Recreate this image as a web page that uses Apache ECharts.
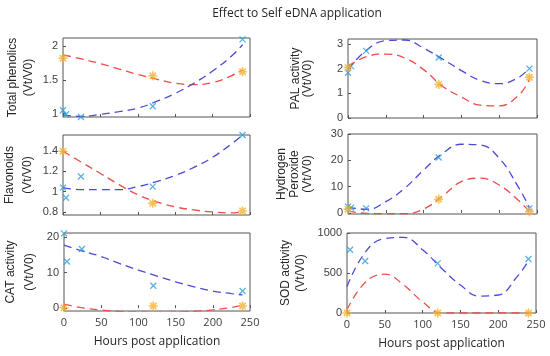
<!DOCTYPE html>
<html><head><meta charset="utf-8">
<script src="https://cdn.jsdelivr.net/npm/echarts@6/dist/echarts.min.js"></script>
<style>html,body{margin:0;padding:0;background:#fff}#c{width:550px;height:356px}</style>
</head><body><div id="c"></div>
<script>
// ---- data ----
const titleText = 'Effect to Self eDNA application';
const xTicks = [0, 50, 100, 150, 200, 250];
const curveHours = [0, 25, 50, 75, 100, 125, 150, 175, 200, 225, 240];
const blueHours = [0, 4, 24, 120, 240];
const orangeHours = [0, 120, 240];

const tpBlueFit = [0.98, 0.96, 0.99, 1.03, 1.08, 1.18, 1.30, 1.45, 1.63, 1.85, 2.02];
const tpRedFit = [1.87, 1.81, 1.74, 1.66, 1.58, 1.51, 1.45, 1.43, 1.46, 1.56, 1.65];
const tpBlue = [1.05, 0.99, 0.95, 1.11, 2.1];
const tpOrange = [1.82, 1.56, 1.62];

const flBlueFit = [1.04, 1.02, 1.02, 1.02, 1.05, 1.10, 1.16, 1.24, 1.34, 1.47, 1.56];
const flRedFit = [1.40, 1.29, 1.18, 1.07, 0.97, 0.90, 0.85, 0.82, 0.80, 0.79, 0.80];
const flBlue = [1.04, 0.94, 1.15, 1.05, 1.56];
const flOrange = [1.40, 0.885, 0.81];

const catBlueFit = [17.7, 16.0, 14.5, 12.5, 10.7, 9.0, 7.4, 6.0, 4.8, 4.1, 3.7];
const catRedFit = [1.1, 0.1, -0.5, -0.9, -1.1, -1.2, -1.1, -0.9, -0.5, 0.2, 0.9];
const catBlue = [21, 13.1, 16.6, 6.3, 4.8];
const catOrange = [0.1, 0.6, 0.6];

const palBlueFit = [1.96, 2.76, 3.13, 3.16, 2.83, 2.39, 1.92, 1.52, 1.39, 1.63, 2.03];
const palRedFit = [2.09, 2.49, 2.59, 2.43, 1.96, 1.29, 0.85, 0.52, 0.49, 0.90, 1.56];
const palBlue = [1.83, 2.1, 2.72, 2.45, 2.0];
const palOrange = [2.05, 1.36, 1.65];

const hpBlueFit = [2.1, 1.4, 4.3, 9.4, 16.3, 22.6, 26.1, 25.8, 20.8, 10.0, 2.1];
const hpRedFit = [0.8, -0.2, -0.3, -0.3, 1.5, 6.4, 11.9, 13.2, 10.6, 4.9, 0.5];
const hpBlue = [2.4, 2.0, 1.75, 21.1, 1.75];
const hpOrange = [1.4, 5.2, 0.5];

const sodBlueFit = [330, 770, 930, 945, 790, 560, 350, 212, 225, 455, 650];
const sodRedFit = [40, 390, 485, 350, 140, 0, 0, 0, 0, 0, 0];
const sodBlueHours = [4, 24, 120, 240];
const sodBlue = [790, 650, 620, 675];
const sodOrange = [0, 0, 0];

const panels = [
  {name: 'Total phenolics\n(Vt/V0)', min: 0.95, max: 2.12, ticks: [1, 1.5, 2], bf: tpBlueFit, rf: tpRedFit, bh: blueHours, b: tpBlue, o: tpOrange},
  {name: 'PAL activity\n(Vt/V0)', min: 0, max: 3.2, ticks: [0, 1, 2, 3], bf: palBlueFit, rf: palRedFit, bh: blueHours, b: palBlue, o: palOrange},
  {name: 'Flavonoids\n(Vt/V0)', min: 0.77, max: 1.56, ticks: [0.8, 1, 1.2, 1.4], bf: flBlueFit, rf: flRedFit, bh: blueHours, b: flBlue, o: flOrange},
  {name: 'Hydrogen\nPeroxide\n(Vt/V0)', min: -0.4, max: 30, ticks: [0, 10, 20, 30], bf: hpBlueFit, rf: hpRedFit, bh: blueHours, b: hpBlue, o: hpOrange},
  {name: 'CAT activity\n(Vt/V0)', min: -0.8, max: 21.1, ticks: [0, 10, 20], bf: catBlueFit, rf: catRedFit, bh: blueHours, b: catBlue, o: catOrange},
  {name: 'SOD activity\n(Vt/V0)', min: 0, max: 1000, ticks: [0, 500, 1000], bf: sodBlueFit, rf: sodRedFit, bh: sodBlueHours, b: sodBlue, o: sodOrange}
];

// ---- layout / styles ----
const grids = [
  {left: 63, top: 38, width: 187, height: 79},
  {left: 348, top: 39, width: 189, height: 79},
  {left: 63, top: 135, width: 187, height: 80},
  {left: 348, top: 134, width: 189, height: 80},
  {left: 63, top: 233, width: 187, height: 78},
  {left: 347, top: 233, width: 189, height: 80}
];
const nameGaps = [26, 34, 26, 34, 25, 39];
const lineHeights = [16, 12, 18, 13, 19, 15];
const FONT = 'Open Sans';
const YFONT = 'Liberation Sans';
const BLUE_LINE = '#4a4ad6';
const RED_LINE = '#ee4b4b';
const BLUE_MK = '#2e9fd6';
const ORANGE_MK = '#f2b130';
const X_PATH = 'path://M0,0L10,10M10,0L0,10';
const STAR_PATH = 'path://M5,0L5,10M0,5L10,5M1.5,1.5L8.5,8.5M8.5,1.5L1.5,8.5';

const xAxis = [], yAxis = [], series = [];
panels.forEach((p, i) => {
  const bottom = i >= 4;
  xAxis.push({
    type: 'value', gridIndex: i, min: 0, max: 250, interval: 50,
    axisLine: {show: false},
    axisTick: {show: true, inside: true, length: 3, lineStyle: {color: '#555'}},
    splitLine: {show: false},
    axisLabel: {show: bottom, color: '#404040', fontFamily: FONT, fontSize: 11, margin: 6},
    name: bottom ? 'Hours post application' : '',
    nameLocation: 'middle', nameGap: 25,
    nameTextStyle: {color: '#262626', fontFamily: FONT, fontSize: 12}
  });
  yAxis.push({
    type: 'value', gridIndex: i, min: p.min, max: p.max,
    axisLine: {show: false},
    axisTick: {show: true, inside: true, length: 3, customValues: p.ticks, lineStyle: {color: '#555'}},
    splitLine: {show: false},
    axisLabel: {show: true, customValues: p.ticks, color: '#404040', fontFamily: YFONT, fontSize: 11, margin: 5,
      formatter: v => String(v)},
    name: p.name, nameLocation: 'middle', nameRotate: 90, nameGap: nameGaps[i],
    nameTextStyle: {color: '#262626', fontFamily: YFONT, fontSize: 12, lineHeight: lineHeights[i]}
  });
  series.push({
    type: 'line', xAxisIndex: i, yAxisIndex: i, smooth: 0.45, symbol: 'none', clip: true,
    data: curveHours.map((h, k) => [h, p.rf[k]]),
    lineStyle: {color: RED_LINE, width: 1.3, type: [8, 5]}, z: 2
  });
  series.push({
    type: 'line', xAxisIndex: i, yAxisIndex: i, smooth: 0.45, symbol: 'none', clip: true,
    data: curveHours.map((h, k) => [h, p.bf[k]]),
    lineStyle: {color: BLUE_LINE, width: 1.3, type: [8, 5]}, z: 2
  });
  series.push({
    type: 'scatter', xAxisIndex: i, yAxisIndex: i, symbol: X_PATH, symbolSize: 6, clip: false,
    data: p.bh.map((h, k) => [h, p.b[k]]),
    itemStyle: {color: 'none', borderColor: BLUE_MK, borderWidth: 1.3}, z: 3
  });
  series.push({
    type: 'scatter', xAxisIndex: i, yAxisIndex: i, symbol: STAR_PATH, symbolSize: 9, clip: false,
    data: orangeHours.map((h, k) => [h, p.o[k]]),
    itemStyle: {color: 'none', borderColor: ORANGE_MK, borderWidth: 1.6}, z: 3
  });
});

const chart = echarts.init(document.getElementById('c'), null, {renderer: 'canvas'});
chart.setOption({
  animation: false,
  backgroundColor: '#fff',
  title: {text: titleText, left: 292, top: 3, textAlign: 'center',
    textStyle: {fontFamily: FONT, fontSize: 12, fontWeight: 'normal', color: '#262626'}},
  grid: grids.map(g => Object.assign({show: true, borderColor: '#555', borderWidth: 1, backgroundColor: 'transparent'}, g)),
  xAxis, yAxis, series
});
</script></body></html>
